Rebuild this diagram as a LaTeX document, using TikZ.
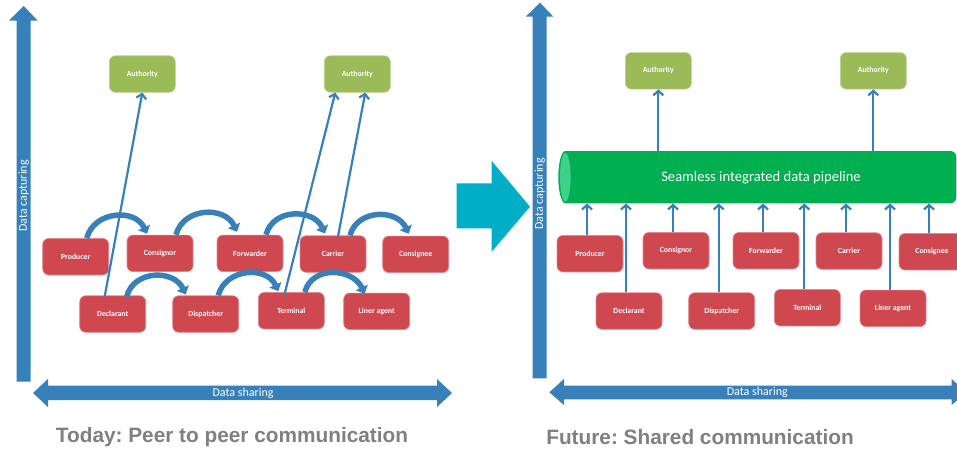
\documentclass[tikz,border=0pt]{standalone}
\usepackage{fontspec}
\setmainfont{Carlito}
\newfontfamily\titlefont{Liberation Sans}
\usetikzlibrary{arrows.meta,calc}
\frenchspacing
\definecolor{axisblue}{RGB}{56,128,186}
\definecolor{boxred}{RGB}{207,72,80}
\definecolor{authgreen}{RGB}{155,187,89}
\definecolor{pipegreen}{RGB}{0,176,80}
\definecolor{pipelight}{RGB}{62,208,140}
\definecolor{bigcyan}{RGB}{0,174,199}
\definecolor{titlegray}{RGB}{128,128,128}
\tikzset{
  party/.style={rectangle, rounded corners=6pt, fill=boxred, draw=boxred!65!white, line width=0.6pt,
    minimum width=66pt, minimum height=36.5pt, inner sep=0pt, text=white, font=\bfseries\fontsize{7.8}{9}\selectfont},
  auth/.style={party, fill=authgreen, draw=authgreen!65!white},
  flow/.style={draw=axisblue, line width=5.5pt, looseness=1.2, -{Triangle[length=7pt,width=13pt]}},
  link/.style={draw=axisblue, line width=2.2pt, -{Straight Barb[length=4.5pt,width=10pt]}},
  axislabel/.style={text=white, font=\fontsize{12}{14}\selectfont, inner sep=0pt},
  panetitle/.style={text=titlegray, font=\titlefont\bfseries\fontsize{20.8}{24}\selectfont, inner sep=0pt},
  axisfill/.style={fill=axisblue}
}
\begin{document}
\begin{tikzpicture}[x=1pt,y=-1pt]
\useasboundingbox (0,0) rectangle (957,450);
\clip (0,0) rectangle (957,450);
\fill[white] (0,0) rectangle (957,450);

% ---------- axes (left) ----------
\fill[axisfill] (16.7,381.7) -- (16.7,20.7) -- (9,20.7) -- (23.7,6) -- (37.7,20.7) -- (30.7,20.7) -- (30.7,381.7) -- cycle;
\fill[axisfill] (33,393) -- (48,379) -- (48,385.7) -- (437,385.7) -- (437,379) -- (452,393) -- (437,407) -- (437,400) -- (48,400) -- (48,407) -- cycle;
\node[axislabel, rotate=90] (Lcap) at (23.7,196) {Data capturing};
\node[axislabel] (Lshare) at (243,393) {Data sharing};

% ---------- axes (right) ----------
\fill[axisfill] (532.7,378.3) -- (532.7,16.7) -- (525.7,16.7) -- (540,2.7) -- (553.3,16.7) -- (546.7,16.7) -- (546.7,378.3) -- cycle;
\fill[axisfill] (549.3,392.3) -- (564,379) -- (564,385.7) -- (951.7,385.7) -- (951.7,379) -- (966,392.3) -- (951.7,405) -- (951.7,399.3) -- (564,399.3) -- (564,405) -- cycle;
\node[axislabel, rotate=90] (Rcap) at (539.7,194) {Data capturing};
\node[axislabel] (Rshare) at (757.3,392) {Data sharing};

% ---------- big cyan arrow ----------
\fill[bigcyan] (456.7,183.3) -- (491.7,183.3) -- (491.7,161) -- (530,206.7) -- (491.7,251.7) -- (491.7,228.3) -- (456.7,228.3) -- cycle;

% ---------- left panel nodes ----------
\node[auth] (LauthA) at (142.3,74) {Authority};
\node[auth] (LauthB) at (357.3,74) {Authority};
\node[party] (Lprod) at (75.7,256.7) {Producer};
\node[party] (Lcons) at (160,253.3) {Consignor};
\node[party] (Lfwd) at (250,253.3) {Forwarder};
\node[party] (Lcar) at (333,254) {Carrier};
\node[party] (Lcsg) at (415.7,254.3) {Consignee};
\node[party] (Ldec) at (112.7,314) {Declarant};
\node[party] (Ldis) at (205.7,314) {Dispatcher};
\node[party] (Lter) at (291.3,310.7) {Terminal};
\node[party] (Lliner) at (376.7,311.3) {Liner agent};

% peer-to-peer arcs
\draw[flow] ([xshift=11pt]Lprod.north) to[out=75,in=115] ([xshift=-13pt,yshift=1pt]Lcons.north);
\draw[flow] ([xshift=16pt]Lcons.north) to[out=75,in=115] ([xshift=-13pt,yshift=3pt]Lfwd.north);
\draw[flow] ([xshift=16pt]Lfwd.north) to[out=75,in=115] ([xshift=-8pt,yshift=2pt]Lcar.north);
\draw[flow] ([xshift=17pt]Lcar.north) to[out=75,in=115] ([xshift=-7pt,yshift=2pt]Lcsg.north);
\draw[flow] ([xshift=14pt,yshift=-1pt]Ldec.north) to[out=75,in=115] ([xshift=-20pt,yshift=1pt]Ldis.north);
\draw[flow] ([xshift=12.5pt]Ldis.north) to[out=75,in=115] ([xshift=-13pt,yshift=1pt]Lter.north);
\draw[flow] ([xshift=13.5pt]Lter.north) to[out=75,in=115] ([xshift=-12pt,yshift=-1pt]Lliner.north);

% links to authorities
\draw[link] ([xshift=-8pt,yshift=-1pt]Ldec.north) -- (LauthA.south);
\draw[link] ([xshift=-7pt,yshift=-3pt]Lter.north) -- ([xshift=-22pt]LauthB.south);
\draw[link] ([xshift=5pt,yshift=-1pt]Lcar.north) -- ([xshift=8pt]LauthB.south);

% ---------- right panel ----------
\node[auth] (RauthA) at (658.3,70.8) {Authority};
\node[auth] (RauthB) at (873.3,70.8) {Authority};

\node[minimum width=398pt, minimum height=52.3pt, inner sep=0pt] (pipe) at (757.3,177.15) {};
\fill[pipegreen] (565.3,203.3) arc[start angle=270, end angle=90, x radius=7pt, y radius=26.15pt]
  -- (950.3,151) arc[start angle=90, end angle=0, radius=6pt]
  -- (956.3,197.3) arc[start angle=0, end angle=-90, radius=6pt] -- cycle;
\fill[pipelight] (565.3,177.2) ellipse[x radius=5.3pt, y radius=24.3pt];
\node[text=white, font=\fontsize{14.6}{17}\selectfont, inner sep=0pt] (pipetext) at (761,177.7) {Seamless integrated data pipeline};

\node[party] (Rprod) at (590,253.7) {Producer};
\node[party] (Rcons) at (676,250.7) {Consignor};
\node[party] (Rfwd) at (766,250.7) {Forwarder};
\node[party] (Rcar) at (849,251) {Carrier};
\node[party] (Rcsg) at (932,251.7) {Consignee};
\node[party] (Rdec) at (629,311) {Declarant};
\node[party] (Rdis) at (721.7,311) {Dispatcher};
\node[party] (Rter) at (807.3,307.7) {Terminal};
\node[party] (Rliner) at (893,308.3) {Liner agent};

\foreach \n in {Rprod,Rcons,Rfwd,Rcar,Rcsg,Rdec,Rdis,Rter,Rliner}{
  \draw[link] ([xshift=-3pt]\n.north) -- ([xshift=-3pt]\n.north |- pipe.south);
}
\draw[link] (RauthA.south |- pipe.north) -- (RauthA.south);
\draw[link] (RauthB.south |- pipe.north) -- (RauthB.south);

% ---------- titles ----------
\node[panetitle] (Ltitle) at (232,437) {Today: Peer to peer communication};
\node[panetitle] (Rtitle) at (700,437) {Future: Shared communication};
\end{tikzpicture}
\end{document}
